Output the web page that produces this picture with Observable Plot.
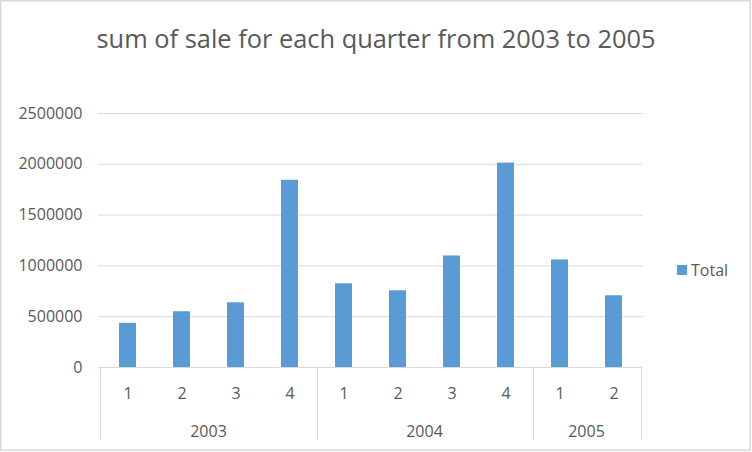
<!DOCTYPE html>
<html>
<head>
<meta charset="utf-8">
<script src="https://cdn.jsdelivr.net/npm/d3@7"></script>
<script src="https://cdn.jsdelivr.net/npm/@observablehq/plot@0.6"></script>
<style>
  html, body { margin: 0; padding: 0; background: #ffffff; }
  #chart { width: 752px; height: 452px; }
</style>
</head>
<body>
<div id="chart"></div>
<script>
const title = "sum of sale for each quarter from 2003 to 2005";
const years = ["2003", "2003", "2003", "2003", "2004", "2004", "2004", "2004", "2005", "2005"];
const quarters = ["1", "2", "3", "4", "1", "2", "3", "4", "1", "2"];
const totals = [435000, 549000, 637000, 1843000, 824000, 755000, 1098000, 2012000, 1059000, 706000];
const yTicks = [0, 500000, 1000000, 1500000, 2000000, 2500000];
const yearLabels = ["2003", "2004", "2005"];
const seriesName = "Total";

const barColor = "#5B9BD5";
const textColor = "#595959";
const gridColor = "#D9D9D9";
const W = 752, H = 452;
const mL = 98, mR = 109, mT = 113, mB = 85;
const padInner = 0.6875;

const data = quarters.map((q, i) => ({ key: years[i] + "-" + q, year: years[i], quarter: q, total: totals[i] }));
const keys = data.map(d => d.key);

const yearData = yearLabels.map(y => {
  const ks = data.filter(d => d.year === y).map(d => d.key);
  return { year: y, first: ks[0], last: ks[ks.length - 1] };
});

const plot = Plot.plot({
  width: W,
  height: H,
  marginLeft: mL,
  marginRight: mR,
  marginTop: mT,
  marginBottom: mB,
  style: { fontFamily: "'Open Sans', sans-serif", fontSize: "16px", color: textColor, background: "transparent", overflow: "visible" },
  x: { domain: keys, paddingInner: padInner, paddingOuter: padInner / 2, axis: null },
  y: { domain: [0, 2500000], axis: null },
  marks: [
    Plot.ruleY(yTicks.slice(1), { stroke: gridColor, strokeWidth: 1 }),
    Plot.axisY({ ticks: yTicks, tickSize: 0, tickPadding: 16, tickFormat: d => String(d), label: null, fill: textColor }),
    Plot.barY(data, { x: "key", y: "total", fill: barColor }),
    Plot.ruleY([0], { stroke: gridColor, strokeWidth: 1 }),
    Plot.text(data, { x: "key", text: "quarter", frameAnchor: "bottom", dy: 26, lineAnchor: "middle", fill: textColor })
  ]
});

const svg = d3.select(plot);
const xs = plot.scale("x");
const ys = plot.scale("y");
const y0 = ys.apply(0);
const gap = xs.step * padInner / 2;

// hierarchical axis: year separators and year labels
const g = svg.append("g").attr("text-anchor", "middle");
const bounds = [];
yearData.forEach((yd, i) => {
  const left = xs.apply(yd.first) - gap;
  const right = xs.apply(yd.last) + xs.bandwidth + gap;
  if (i === 0) bounds.push(left);
  bounds.push(right);
  g.append("text")
    .attr("x", (left + right) / 2)
    .attr("y", y0 + 64)
    .attr("dy", "0.35em")
    .attr("fill", textColor)
    .text(yd.year);
});
bounds.forEach(bx => {
  g.append("line")
    .attr("x1", Math.round(bx) + 0.5).attr("x2", Math.round(bx) + 0.5)
    .attr("y1", y0).attr("y2", y0 + 73)
    .attr("stroke", gridColor).attr("stroke-width", 1);
});

// title
svg.append("text")
  .attr("x", W / 2)
  .attr("y", 48)
  .attr("text-anchor", "middle")
  .attr("fill", textColor)
  .style("font-size", "25.4px")
  .text(title);

// legend
const lg = svg.append("g").attr("text-anchor", "start");
lg.append("rect").attr("x", 677).attr("y", 265).attr("width", 10).attr("height", 10).attr("fill", barColor);
lg.append("text").attr("x", 691).attr("y", 270).attr("dy", "0.35em").attr("text-anchor", "start").attr("fill", textColor).text(seriesName);

// outer border
svg.append("rect")
  .attr("x", 0.75).attr("y", 0.75).attr("width", W - 2.5).attr("height", H - 2.5)
  .attr("fill", "none").attr("stroke", gridColor).attr("stroke-width", 1.5);

document.getElementById("chart").appendChild(plot);
</script>
</body>
</html>
